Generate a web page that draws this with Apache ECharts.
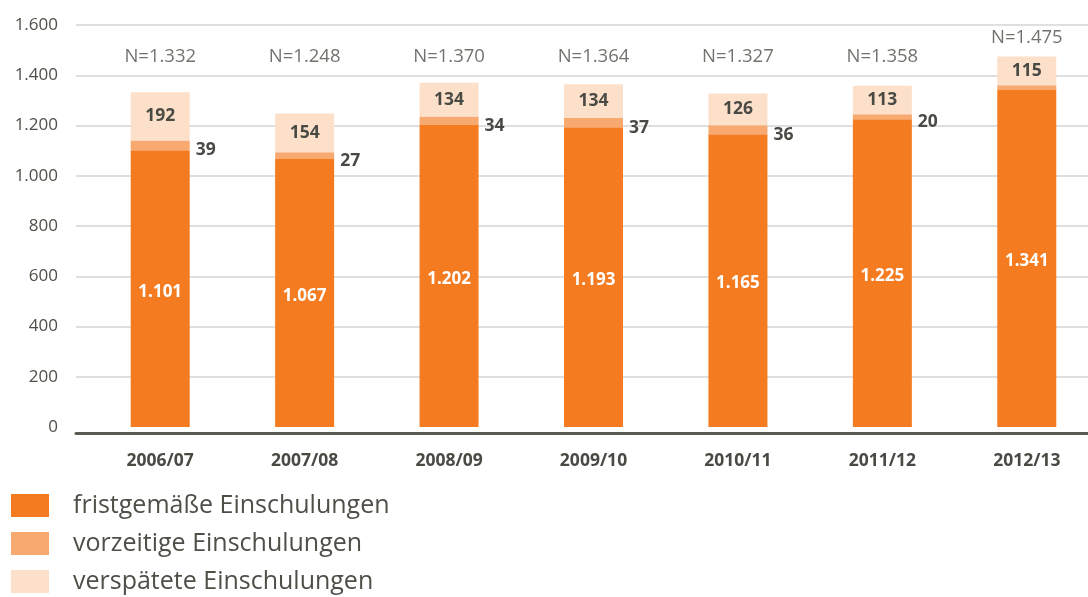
<!DOCTYPE html>
<html>
<head>
<meta charset="utf-8">
<script src="https://cdn.jsdelivr.net/npm/echarts@6/dist/echarts.min.js"></script>
<style>
  html, body { margin: 0; padding: 0; background: #fff; }
  #chart { width: 1088px; height: 597px; }
</style>
</head>
<body>
<div id="chart"></div>
<script>
// Schuljahre und Einschulungen
const years = ["2006/07", "2007/08", "2008/09", "2009/10", "2010/11", "2011/12", "2012/13"];
const fristgemaess = [1101, 1067, 1202, 1193, 1165, 1225, 1341];
const vorzeitig = [39, 27, 34, 37, 36, 20, 19];
const verspaetet = [192, 154, 134, 134, 126, 113, 115];
const totals = [1332, 1248, 1370, 1364, 1327, 1358, 1475];
const yTicks = [0, 200, 400, 600, 800, 1000, 1200, 1400, 1600];

const fmt = (v) => String(v).replace(/\B(?=(\d{3})+(?!\d))/g, ".");

const FONT = "Open Sans";
const TEXT = "#4f4f48";
const C1 = "#f47b20";
const C2 = "#f8a96f";
const C3 = "#fde0ca";

let myChart = echarts.init(document.getElementById("chart"));

const option = {
  animation: false,
  textStyle: { fontFamily: FONT },
  grid: [
    { left: 76, right: 0, top: 25, bottom: 170, outerBoundsMode: "none" },
    { left: 88, width: 1011, top: 25, bottom: 170, outerBoundsMode: "none" },
  ],
  legend: {
    orient: "vertical",
    left: 11,
    top: 493,
    height: 104,
    padding: 0,
    itemWidth: 38,
    itemHeight: 23,
    itemGap: 13,
    icon: "rect",
    data: ["fristgemäße Einschulungen", "vorzeitige Einschulungen", "verspätete Einschulungen"],
    textStyle: {
      color: TEXT,
      fontSize: 25,
      lineHeight: 25,
      fontFamily: FONT,
      padding: [0, 0, 0, 19],
    },
  },
  xAxis: [
    {
      gridIndex: 0,
      type: "category",
      data: years,
      offset: 6,
      axisLine: { show: true, onZero: false, lineStyle: { color: "#5b5b55", width: 3 } },
      axisTick: { show: false },
      axisLabel: { show: false },
    },
    {
      gridIndex: 1,
      type: "category",
      data: years,
      axisLine: { show: false },
      axisTick: { show: false },
      axisLabel: {
        margin: 25,
        fontSize: 17.5,
        fontWeight: "bold",
        color: "#4a4a44",
        fontFamily: FONT,
      },
    },
  ],
  yAxis: [
    {
      gridIndex: 0,
      type: "value",
      min: yTicks[0],
      max: yTicks[yTicks.length - 1],
      interval: 200,
      axisLine: { show: false },
      axisTick: { show: false },
      axisLabel: {
        margin: 18,
        fontSize: 17,
        color: TEXT,
        fontFamily: FONT,
        formatter: (v) => fmt(v),
      },
      splitLine: { showMinLine: false, lineStyle: { color: "#d4d4d4", width: 1.5 } },
    },
    {
      gridIndex: 1,
      type: "value",
      min: yTicks[0],
      max: yTicks[yTicks.length - 1],
      interval: 200,
      show: false,
      splitLine: { show: false },
    },
  ],
  series: [
    {
      name: "fristgemäße Einschulungen",
      type: "bar",
      stack: "n",
      xAxisIndex: 1,
      yAxisIndex: 1,
      barWidth: 59,
      itemStyle: { color: C1 },
      label: {
        show: true,
        position: "inside",
        color: "#fff",
        fontSize: 17,
        fontWeight: "bold",
        fontFamily: FONT,
        offset: [0, 3],
        formatter: (p) => fmt(p.value),
      },
      data: fristgemaess,
    },
    {
      name: "vorzeitige Einschulungen",
      type: "bar",
      stack: "n",
      xAxisIndex: 1,
      yAxisIndex: 1,
      barWidth: 59,
      itemStyle: { color: C2 },
      label: {
        show: true,
        position: "right",
        distance: 6,
        offset: [0, 5],
        color: "#4a4a44",
        fontSize: 17.5,
        fontWeight: "bold",
        fontFamily: FONT,
        // für 2012/13 ist im Original kein Wert beschriftet
        formatter: (p) => (p.dataIndex === years.length - 1 ? "" : fmt(p.value)),
      },
      data: vorzeitig,
    },
    {
      name: "verspätete Einschulungen",
      type: "bar",
      stack: "n",
      xAxisIndex: 1,
      yAxisIndex: 1,
      barWidth: 59,
      itemStyle: { color: C3 },
      label: {
        show: true,
        position: "inside",
        color: "#4a4a44",
        fontSize: 17.5,
        fontWeight: "bold",
        fontFamily: FONT,
        formatter: (p) => fmt(p.value),
      },
      data: verspaetet,
    },
    {
      // N-Beschriftung über den Säulen
      name: "N",
      type: "scatter",
      xAxisIndex: 1,
      yAxisIndex: 1,
      symbolSize: 0,
      silent: true,
      label: {
        show: true,
        position: "inside",
        color: TEXT,
        fontSize: 18.5,
        fontFamily: FONT,
        formatter: (p) => "N=" + fmt(totals[p.dataIndex]),
      },
      data: totals.map((t) => Math.max(1472, t + 75)),
    },
  ],
};

myChart.setOption(option);

window.addEventListener("resize", () => {
  myChart.resize();
});
</script>
</body>
</html>
